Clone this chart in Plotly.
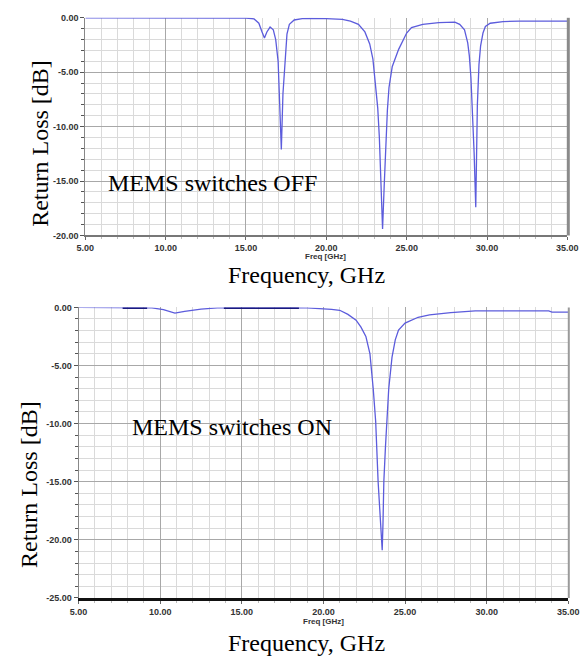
import plotly.graph_objects as go

# ---------------- data ----------------
off_freq = [5, 10, 15, 15.5, 15.8, 16.0, 16.15, 16.3, 16.5, 16.7, 16.85, 17.0, 17.1, 17.2, 17.3, 17.4,
            17.55, 17.7, 18.0, 18.5, 19, 20, 21, 21.5, 22.0, 22.4, 22.7, 22.9, 23.1, 23.2, 23.3, 23.4,
            23.5, 23.6, 23.7, 23.8, 23.9, 24.1, 24.5, 25.0, 25.3, 26, 27, 28.0, 28.3, 28.6, 28.8, 28.9,
            29.0, 29.1, 29.2, 29.3, 29.35, 29.4, 29.5, 29.6, 29.75, 29.9, 30.2, 31, 32, 33, 34, 35]
off_rl = [0, 0, -0.02, -0.1, -0.5, -1.3, -1.85, -1.3, -0.85, -1.1, -2.0, -4.0, -7.5, -12.1, -7.0, -4.5,
          -1.5, -0.6, -0.2, -0.08, -0.05, -0.08, -0.15, -0.3, -0.6, -1.3, -2.4, -3.8, -6.4, -8.3, -11.0, -15.0,
          -19.4, -15.5, -11.0, -8.5, -6.4, -4.5, -2.9, -1.4, -0.9, -0.6, -0.45, -0.4, -0.6, -1.1, -2.3, -3.5,
          -5.5, -8.5, -12.5, -17.4, -13.0, -8.0, -4.3, -2.6, -1.4, -0.8, -0.5, -0.35, -0.3, -0.3, -0.3, -0.3]

on_freq = [5, 8, 9.5, 10.2, 10.9, 11.5, 12.5, 13.5, 15, 18, 19, 20, 20.5, 21, 21.5, 22, 22.3, 22.6,
           22.85, 23.05, 23.2, 23.35, 23.5, 23.6, 23.65, 23.7, 23.8, 23.9, 24.0, 24.2, 24.4, 24.6, 25.0,
           25.8, 26.5, 27.8, 29.3, 33.8, 34.0, 35]
on_rl = [0, 0, -0.05, -0.2, -0.5, -0.35, -0.15, -0.05, -0.02, -0.02, -0.05, -0.1, -0.18, -0.25, -0.6,
         -1.1, -1.7, -2.5, -4.0, -7.0, -9.8, -15.0, -19.0, -20.9, -18.5, -15.0, -12.0, -9.8, -7.0, -4.3,
         -2.8, -1.95, -1.35, -0.85, -0.65, -0.45, -0.3, -0.3, -0.4, -0.4]

# darker overlapping segments drawn along 0 dB in the ON plot
on_dark_freq = [7.7, 9.2, None, 13.9, 18.5]
on_dark_rl = [0, 0, None, 0, 0]

x_ticks = [5, 10, 15, 20, 25, 30, 35]
x_ticktext = ["5.00", "10.00", "15.00", "20.00", "25.00", "30.00", "35.00"]
off_yticks = [0, -5, -10, -15, -20]
off_yticktext = ["0.00", "-5.00", "-10.00", "-15.00", "-20.00"]
on_yticks = [0, -5, -10, -15, -20, -25]
on_yticktext = ["0.00", "-5.00", "-10.00", "-15.00", "-20.00", "-25.00"]

# ---------------- figure ----------------
W, H = 588, 664


def px(x):
    return x / W


def py(y):
    return 1 - y / H


LINE = "#5c5cdc"
SERIF = "Liberation Serif"
SANS = "Liberation Sans"

fig = go.Figure()
fig.add_trace(go.Scatter(x=off_freq, y=off_rl, mode="lines", line=dict(color=LINE, width=1.3),
                         xaxis="x", yaxis="y", showlegend=False, hoverinfo="skip"))
fig.add_trace(go.Scatter(x=on_freq, y=on_rl, mode="lines", line=dict(color=LINE, width=1.3),
                         xaxis="x2", yaxis="y2", showlegend=False, hoverinfo="skip"))
fig.add_trace(go.Scatter(x=on_dark_freq, y=on_dark_rl, mode="lines", line=dict(color="#1a1a80", width=3),
                         xaxis="x2", yaxis="y2", showlegend=False, connectgaps=False, hoverinfo="skip"))

tickfont = dict(family=SANS, size=9, color="#333333")
major_grid = "#a8a8a8"
minor_grid = "#dadada"


def xax(domain, anchor, linecolor, linewidth):
    return dict(domain=domain, anchor=anchor, range=[5, 35], tickmode="array", tickvals=x_ticks,
                ticktext=[f"<b>{t}</b>" for t in x_ticktext], tickfont=tickfont,
                ticklabeloverflow="allow",
                showgrid=True, gridcolor=major_grid, gridwidth=1,
                minor=dict(dtick=1, showgrid=True, gridcolor=minor_grid, gridwidth=1,
                           ticks="outside", ticklen=2, tickcolor="#bbbbbb"),
                ticks="outside", ticklen=3, tickcolor="#666666",
                zeroline=False, showline=True, linecolor=linecolor, linewidth=linewidth,
                mirror=False, fixedrange=True)


def yax(domain, anchor, rng, vals, text):
    return dict(domain=domain, anchor=anchor, range=rng, tickmode="array", tickvals=vals,
                ticktext=[f"<b>{t}</b>" for t in text], tickfont=tickfont,
                ticklabeloverflow="allow",
                showgrid=True, gridcolor=major_grid, gridwidth=1,
                minor=dict(dtick=1, showgrid=True, gridcolor=minor_grid, gridwidth=1,
                           ticks="outside", ticklen=3, tickcolor="#555555"),
                ticks="outside", ticklen=4, tickcolor="#555555",
                zeroline=False, showline=True, linecolor="#888888", linewidth=1,
                mirror=False, fixedrange=True)


fig.update_layout(
    width=W, height=H, margin=dict(l=0, r=0, t=0, b=0, pad=0),
    paper_bgcolor="white", plot_bgcolor="white",
    xaxis=xax([px(79), px(578)], "y", "#777777", 2),
    yaxis=yax([py(234), py(13)], "x", [-20, 0], off_yticks, off_yticktext),
    xaxis2=xax([px(72), px(579)], "y2", "#111111", 3),
    yaxis2=yax([py(602), py(307)], "x2", [-25, 0], on_yticks, on_yticktext),
)

# right-edge borders
fig.add_shape(type="line", xref="paper", yref="paper", x0=px(579), x1=px(579), y0=py(234), y1=py(13),
              line=dict(color="#8a8a8a", width=3))
fig.add_shape(type="line", xref="paper", yref="paper", x0=px(579.5), x1=px(579.5), y0=py(602), y1=py(307),
              line=dict(color="#9a9a9a", width=2))


def ann(text, x, y, size, family, angle=0, xanchor="center", color="black"):
    fig.add_annotation(text=text, xref="paper", yref="paper", x=px(x), y=py(y), showarrow=False,
                       xanchor=xanchor, yanchor="middle", textangle=angle,
                       font=dict(family=family, size=size, color=color))


ann("<b>Freq [GHz]</b>", 328, 255.5, 8, SANS, color="#333333")
ann("<b>Freq [GHz]</b>", 326, 626, 8, SANS, color="#333333")
ann("Frequency, GHz", 308, 274, 24, SERIF)
ann("Frequency, GHz", 308, 648, 24, SERIF)
ann("Return Loss [dB]", 32, 140, 24, SERIF, angle=-90)
ann("Return Loss [dB]", 20, 487, 24, SERIF, angle=-90)
ann("MEMS switches OFF", 100, 180.5, 24, SERIF, xanchor="left")
ann("MEMS switches ON", 125, 428.5, 24, SERIF, xanchor="left")

fig.write_html("out.html", config={"displayModeBar": False},
               post_script="document.body.style.margin='0';document.body.style.padding='0';"
                           "document.body.style.overflow='hidden';")
